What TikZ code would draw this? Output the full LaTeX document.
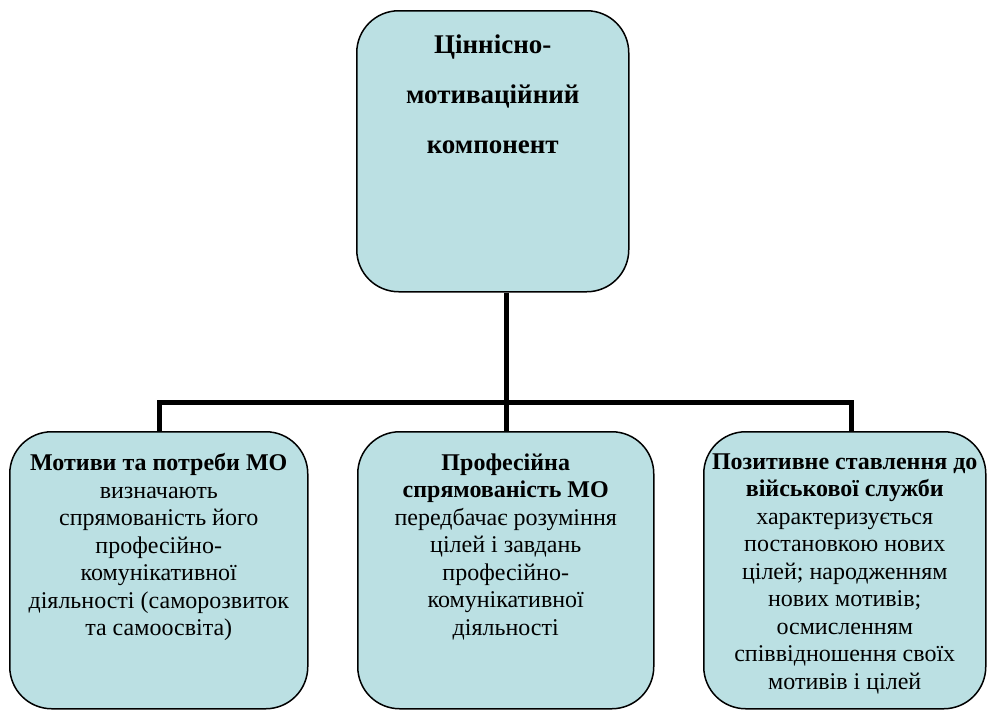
\documentclass[tikz,border=0pt]{standalone}
\usepackage{fontspec}
\setmainfont{Liberation Serif}
\usetikzlibrary{positioning}
\definecolor{cardfill}{HTML}{BBE0E3}
\definecolor{ink}{HTML}{000000}
\tikzset{
  every picture/.style={line join=miter},
  card/.style={draw=ink, fill=cardfill, line width=1.5pt, rounded corners=42pt,
    inner sep=0pt, anchor=north west},
  link/.style={draw=ink, line width=5pt},
  body/.style={font=\fontsize{24}{27.5}\selectfont}
}
\newcommand{\CardText}[4]{%
  % #1 = text width, #2 = card height, #3 = gap above first line, #4 = lines
  \parbox[t][#2][t]{#1}{\centering\vspace*{#3}#4}%
}

\begin{document}
\begin{tikzpicture}[x=1pt,y=-1pt]
  \useasboundingbox (0,0) rectangle (987,710);

  % top card
  \node[card, minimum width=272pt, minimum height=281pt] (top) at (356,10)
    {\CardText{260pt}{281pt}{24pt}{\fontsize{27}{50}\selectfont\bfseries
      Ціннісно-\\мотиваційний\\компонент}};

  % bottom cards
  \node[card, body, minimum width=298pt, minimum height=277pt] (motives) at (9,431)
    {\CardText{290pt}{277pt}{22pt}{\textbf{Мотиви та потреби МО}\\
      визначають\\спрямованість його\\професійно-\\комунікативної\\
      діяльності (саморозвиток\\та самоосвіта)}};
  \node[card, body, minimum width=296pt, minimum height=277pt] (direction) at (357,431)
    {\CardText{288pt}{277pt}{22pt}{\textbf{Професійна}\\\textbf{спрямованість МО}\\
      передбачає розуміння\\цілей і завдань\\професійно-\\комунікативної\\діяльності}};
  \node[card, body, minimum width=282pt, minimum height=277pt] (attitude) at (703,431)
    {\CardText{280pt}{277pt}{22pt}{\textbf{Позитивне ставлення до}\\\textbf{військової служби}\\
      характеризується\\постановкою нових\\цілей; народженням\\нових мотивів;\\
      осмисленням\\співвідношення своїх\\мотивів і цілей}};

  % connectors
  \coordinate (hub) at (506,402);
  \coordinate (busL) at (159,402);
  \coordinate (busR) at (851,402);
  \draw[link] (top.south -| hub) -- (hub);
  \draw[link] (motives.north -| busL) -- (busL) -- (busR) -- (attitude.north -| busR);
  \draw[link] (hub) -- (direction.north -| hub);
\end{tikzpicture}
\end{document}
